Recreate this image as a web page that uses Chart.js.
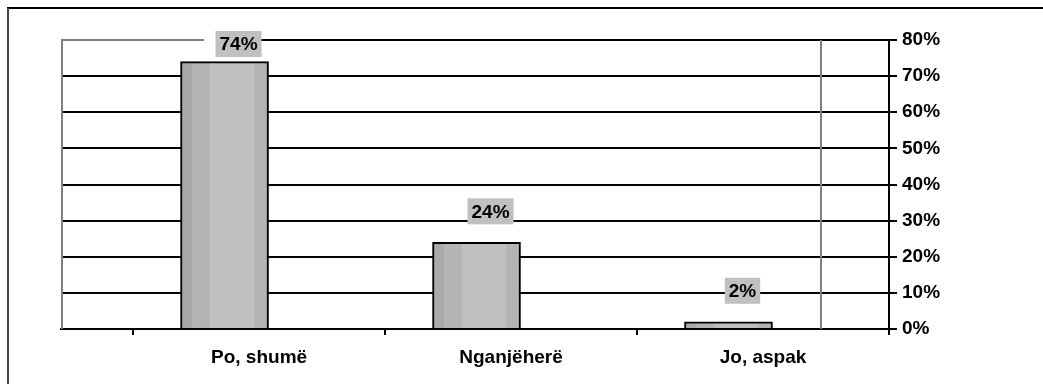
<!DOCTYPE html>
<html>
<head>
<meta charset="utf-8">
<script src="https://cdn.jsdelivr.net/npm/chart.js@4/dist/chart.umd.min.js"></script>
<style>
  html, body { margin: 0; padding: 0; background: #fff; }
  #wrap { width: 1043px; height: 384px; }
</style>
</head>
<body>
<div id="wrap"><canvas id="chart" width="1043" height="384"></canvas></div>
<script>
const categories = ['Po, shumë', 'Nganjëherë', 'Jo, aspak'];
const percentages = [74, 24, 2];
const yTicks = [0, 10, 20, 30, 40, 50, 60, 70, 80];

const FONT = '"Liberation Sans", Arial, sans-serif';
const BAR_W = 88;
const DEPTH = 68; // 3d back wall offset
const X_MIN = -0.786, X_MAX = 2.5, BAR_SHIFT = 0.137;

// stepped grey shading like the old excel column
function barFill(c) {
  const s = c.chart.scales.xb;
  if (!s || !isFinite(s.getPixelForValue(c.dataIndex))) return '#c0c0c0';
  const l = s.getPixelForValue(c.dataIndex) - BAR_W / 2;
  const g = c.chart.ctx.createLinearGradient(l, 0, l + BAR_W, 0);
  const stops = [[0, '#a9a9a9'], [0.13, '#a9a9a9'], [0.13, '#b4b4b4'], [0.34, '#b4b4b4'],
                 [0.34, '#c0c0c0'], [0.83, '#c0c0c0'], [0.83, '#b4b4b4'], [1, '#b4b4b4']];
  stops.forEach(([p, col]) => g.addColorStop(p, col));
  return g;
}

const frame = {
  id: 'frame',
  beforeDraw(chart) {
    const ctx = chart.ctx;
    ctx.save();
    ctx.lineWidth = 2;
    ctx.strokeStyle = '#000';
    ctx.beginPath(); ctx.moveTo(7, 8); ctx.lineTo(chart.width, 8); ctx.stroke();
    ctx.strokeStyle = '#444';
    ctx.beginPath(); ctx.moveTo(8, 8); ctx.lineTo(8, chart.height); ctx.stroke();
    ctx.restore();
  },
  beforeDatasetsDraw(chart) {
    const { ctx, chartArea: a } = chart;
    ctx.save();
    ctx.strokeStyle = '#808080';
    ctx.lineWidth = 2;
    // back wall edges
    ctx.clearRect(a.left - 1, a.top - 2, 156, 4);
    ctx.beginPath();
    ctx.moveTo(a.left + 1, a.bottom);
    ctx.lineTo(a.left + 1, a.top);
    ctx.lineTo(a.left + 143, a.top);
    ctx.moveTo(a.right - DEPTH, a.top);
    ctx.lineTo(a.right - DEPTH, a.bottom);
    ctx.stroke();
    ctx.restore();
  },
  afterDatasetsDraw(chart) {
    const ctx = chart.ctx;
    const a = chart.chartArea;
    const meta = chart.getDatasetMeta(0);
    ctx.save();
    ctx.font = 'bold 19px ' + FONT;
    ctx.textAlign = 'center';
    ctx.textBaseline = 'middle';
    meta.data.forEach((bar, i) => {
      const txt = percentages[i] + '%';
      const cx = bar.x + 14;
      const cy = Math.max(bar.y - 31, a.top + 4);
      const w = ctx.measureText(txt).width + 8;
      ctx.fillStyle = '#c0c0c0';
      ctx.fillRect(cx - w / 2, cy - 13, w, 26);
      ctx.fillStyle = '#000';
      ctx.fillText(txt, cx, cy + 1);
    });
    ctx.restore();
  }
};

new Chart(document.getElementById('chart'), {
  type: 'bar',
  data: {
    labels: categories,
    datasets: [{
      data: percentages.map((v, i) => ({ x: i, y: v })),
      xAxisID: 'xb',
      yAxisID: 'y',
      backgroundColor: barFill,
      borderColor: '#000',
      borderWidth: 2,
      borderSkipped: 'bottom',
      barThickness: BAR_W
    }]
  },
  options: {
    responsive: false,
    animation: false,
    layout: { padding: { left: 61, top: 40, right: 0, bottom: 0 } },
    plugins: {
      legend: { display: false },
      tooltip: { enabled: false }
    },
    scales: {
      x: {
        type: 'linear',
        offset: false,
        min: X_MIN,
        max: X_MAX,
        afterBuildTicks: (s) => { s.ticks = categories.map((_, i) => ({ value: i })); },
        afterFit: (s) => { s.height = 55; },
        grid: { offset: true, drawOnChartArea: false, color: '#000', lineWidth: 2, tickLength: 6 },
        border: { color: '#000', width: 2 },
        ticks: {
          autoSkip: false, maxRotation: 0, padding: 11, color: '#000',
          font: { family: FONT, size: 19, weight: 'bold' },
          callback: (v) => categories[v] ?? ''
        }
      },
      xb: {
        type: 'linear',
        display: false,
        offset: false,
        min: X_MIN + BAR_SHIFT,
        max: X_MAX + BAR_SHIFT
      },
      y: {
        position: 'right',
        min: 0,
        max: 80,
        afterBuildTicks: (s) => { s.ticks = yTicks.map(v => ({ value: v })); },
        afterFit: (s) => { s.width = 154; },
        grid: { color: '#000', lineWidth: 2, tickLength: 8 },
        border: { color: '#000', width: 2 },
        ticks: {
          padding: 5, color: '#000',
          font: { family: FONT, size: 19, weight: 'bold' },
          callback: (v) => v + '%'
        }
      }
    }
  },
  plugins: [frame]
});
</script>
</body>
</html>
